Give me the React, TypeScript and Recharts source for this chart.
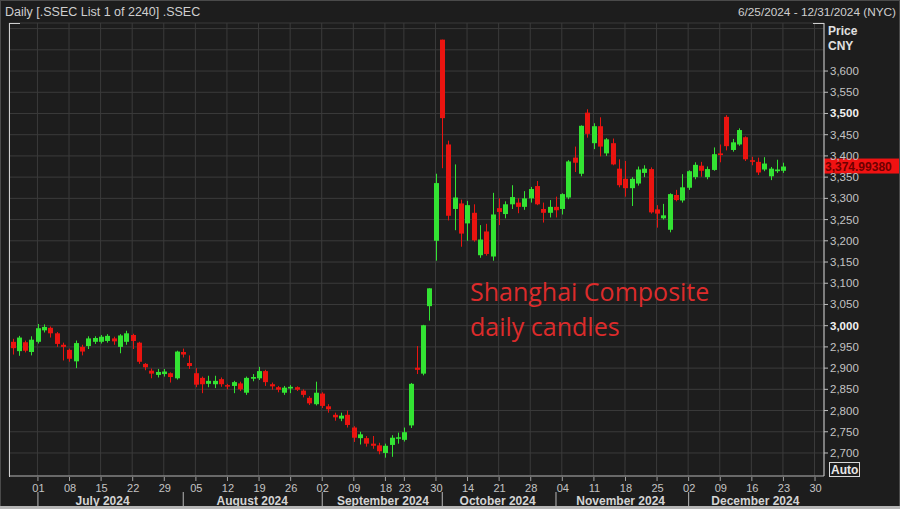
import React from "react";
import { ComposedChart, Bar, XAxis, YAxis, CartesianGrid, ReferenceLine } from "recharts";

// ---- Data ----
const tradingDays: [string, number[]][] = [
  ["06", [25, 26, 27, 28]],
  ["07", [1, 2, 3, 4, 5, 8, 9, 10, 11, 12, 15, 16, 17, 18, 19, 22, 23, 24, 25, 26, 29, 30, 31]],
  ["08", [1, 2, 5, 6, 7, 8, 9, 12, 13, 14, 15, 16, 19, 20, 21, 22, 23, 26, 27, 28, 29, 30]],
  ["09", [2, 3, 4, 5, 6, 9, 10, 11, 12, 13, 18, 19, 20, 23, 24, 25, 26, 27, 30]],
  ["10", [8, 9, 10, 11, 14, 15, 16, 17, 18, 21, 22, 23, 24, 25, 28, 29, 30, 31]],
  ["11", [1, 4, 5, 6, 7, 8, 11, 12, 13, 14, 15, 18, 19, 20, 21, 22, 25, 26, 27, 28, 29]],
  ["12", [2, 3, 4, 5, 6, 9, 10, 11, 12, 13, 16, 17, 18, 19, 20, 23, 24, 25, 26, 27, 30, 31]],
];

const opens = [
  2962, 2940, 2961, 2938,
  2962, 2989, 2995, 2982, 2955, 2943, 2916, 2950, 2952, 2962, 2962, 2964, 2970, 2950, 2962, 2978, 2960, 2910, 2894, 2884, 2886, 2888, 2876,
  2938, 2912, 2888, 2877, 2863, 2862, 2874, 2860, 2858, 2864, 2842, 2875, 2876, 2893, 2862, 2855, 2842, 2852, 2855, 2847, 2830, 2815,
  2840, 2810, 2790, 2781, 2790, 2760, 2735, 2735, 2722, 2718, 2700, 2719, 2735, 2731, 2765, 2901, 2887, 3046, 3200,
  3674, 3427, 3275, 3288, 3241, 3266, 3166, 3222, 3163, 3277, 3263, 3286, 3290, 3280, 3300, 3329, 3275, 3266,
  3280, 3275, 3302, 3396, 3358, 3502, 3430, 3470, 3406, 3430, 3370, 3346, 3324, 3335, 3360, 3369, 3274, 3253, 3226, 3308, 3295,
  3325, 3350, 3377, 3350, 3367, 3406, 3492, 3414, 3427, 3444, 3390, 3386, 3368, 3352, 3364, 3365,
];
const highs = [
  2969, 2976, 2965, 2975,
  3004, 3003, 2998, 2985, 2960, 2946, 2965, 2955, 2975, 2975, 2978, 2980, 2974, 2980, 2988, 2981, 2962, 2912, 2899, 2898, 2898, 2890, 2941,
  2946, 2930, 2900, 2880, 2882, 2882, 2878, 2863, 2870, 2868, 2880, 2886, 2903, 2896, 2866, 2858, 2858, 2860, 2857, 2850, 2834, 2868,
  2843, 2815, 2795, 2795, 2800, 2763, 2750, 2740, 2740, 2724, 2722, 2742, 2748, 2760, 2865, 2952, 3002, 3088, 3358,
  3674, 3436, 3380, 3297, 3294, 3286, 3237, 3240, 3313, 3300, 3293, 3331, 3300, 3317, 3327, 3341, 3290, 3296,
  3304, 3312, 3390, 3422, 3472, 3510, 3477, 3491, 3442, 3441, 3392, 3388, 3350, 3375, 3378, 3373, 3284, 3287, 3312, 3320, 3357,
  3366, 3385, 3386, 3375, 3420, 3427, 3496, 3440, 3465, 3446, 3398, 3396, 3397, 3374, 3391, 3384,
];
const lows = [
  2932, 2929, 2937, 2930,
  2958, 2984, 2972, 2950, 2918, 2915, 2900, 2930, 2945, 2957, 2958, 2960, 2955, 2935, 2955, 2945, 2910, 2895, 2876, 2878, 2880, 2866, 2873,
  2925, 2898, 2855, 2841, 2855, 2853, 2856, 2850, 2841, 2846, 2837, 2869, 2872, 2858, 2849, 2843, 2837, 2841, 2846, 2831, 2813, 2812,
  2806, 2795, 2776, 2775, 2760, 2726, 2720, 2715, 2710, 2697, 2689, 2691, 2722, 2727, 2759, 2886, 2883, 3012, 3153,
  3371, 3248, 3225, 3186, 3200, 3198, 3160, 3165, 3153, 3237, 3253, 3275, 3265, 3273, 3290, 3284, 3243, 3255,
  3255, 3262, 3298, 3362, 3352, 3443, 3416, 3399, 3400, 3378, 3326, 3304, 3282, 3330, 3350, 3264, 3231, 3250, 3220, 3293, 3290,
  3320, 3345, 3351, 3345, 3365, 3385, 3413, 3410, 3424, 3388, 3378, 3355, 3364, 3343, 3360, 3360,
];
const closes = [
  2947, 2972, 2941, 2967,
  2994, 2997, 2982, 2957, 2950, 2922, 2959, 2939, 2970, 2971, 2974, 2976, 2963, 2977, 2982, 2964, 2915, 2902, 2887, 2891, 2892, 2879, 2939,
  2932, 2905, 2861, 2862, 2870, 2870, 2862, 2858, 2867, 2850, 2877, 2879, 2893, 2867, 2857, 2849, 2854, 2856, 2849, 2837, 2817, 2842,
  2811, 2803, 2784, 2788, 2766, 2736, 2744, 2722, 2717, 2704, 2717, 2736, 2737, 2749, 2863, 2896, 3001, 3088, 3336,
  3489, 3259, 3302, 3217, 3284, 3201, 3203, 3169, 3262, 3268, 3286, 3303, 3280, 3300, 3322, 3286, 3266, 3280,
  3272, 3310, 3387, 3384, 3471, 3452, 3470, 3422, 3439, 3380, 3331, 3324, 3346, 3368, 3370, 3267, 3264, 3260, 3310, 3296, 3326,
  3364, 3379, 3365, 3369, 3404, 3402, 3423, 3432, 3461, 3392, 3386, 3361, 3382, 3370, 3368, 3375,
];

const yTicks = [2700, 2750, 2800, 2850, 2900, 2950, 3000, 3050, 3100, 3150, 3200, 3250, 3300, 3350, 3400, 3450, 3500, 3550, 3600, 3650, 3700];
const yLabelMax = 3600;
const boldTicks = [3000, 3500];
const dayTicks = ["07-01", "07-08", "07-15", "07-22", "07-29", "08-05", "08-12", "08-19", "08-26", "09-02", "09-09", "09-18", "09-23", "09-30", "10-14", "10-21", "10-28", "11-04", "11-11", "11-18", "11-25", "12-02", "12-09", "12-16", "12-23", "12-30"];
const monthStarts = ["07-01", "08-01", "09-02", "10-08", "11-01", "12-02"];
const monthLabelKeys = ["07-15", "08-16", "09-18", "10-21", "11-15", "12-16"];
const monthLabelTexts = ["July 2024", "August 2024", "September 2024", "October 2024", "November 2024", "December 2024"];
const monthLabelShift = [2, 0, -2, -1, 2, 4];
const lastPrice = 3374.9938;
const lastPriceText = "3,374.99380";

// ---- Build table ----
const dates = tradingDays.flatMap(([m, ds]) => ds.map((d) => `${m}-${String(d).padStart(2, "0")}`));
const data = dates.map((d, i) =>
  i < opens.length
    ? { d, o: opens[i], h: highs[i], l: lows[i], c: closes[i], range: [lows[i], highs[i]] }
    : { d, range: null }
);

const GREEN = "#33e333";
const RED = "#ea1410";
const FONT = "'Liberation Sans', Arial, sans-serif";
const GRID = "#3b3b3b";
const BG = "#1d1d1d";

const fmt = (v: number) => {
  const s = String(Math.round(v));
  return s.length > 3 ? s.slice(0, s.length - 3) + "," + s.slice(s.length - 3) : s;
};

const Candle = (props: any) => {
  const { x, width, payload } = props;
  let { y, height } = props;
  if (!payload || payload.o == null || y == null || height == null || isNaN(y)) return null;
  if (height < 0) {
    y = y + height;
    height = -height;
  }
  const { o, h, l, c } = payload;
  const k = h - l > 0 ? height / (h - l) : 0;
  const yO = y + (h - o) * k;
  const yC = y + (h - c) * k;
  const col = c >= o ? GREEN : RED;
  const cx = Math.round(x + width / 2);
  const top = Math.min(yO, yC);
  const bh = Math.max(1.5, Math.abs(yO - yC));
  return (
    <g>
      <line x1={cx + 0.5} x2={cx + 0.5} y1={y} y2={y + height} stroke={col} strokeWidth={1} />
      <rect x={cx - 2} y={top} width={5} height={bh} fill={col} />
    </g>
  );
};

const YTick = (props: any) => {
  const { x, y, payload } = props;
  const v = payload.value;
  if (v > yLabelMax) return null;
  const bold = boldTicks.includes(v);
  return (
    <g>
      <line x1={x} x2={x + 4} y1={y} y2={y} stroke="#bdbdbd" />
      <text x={x + 6} y={y + 4} fill={bold ? "#f2f2f2" : "#c4c4c4"} fontWeight={bold ? 700 : 400} fontSize={11.5} fontFamily={FONT}>
        {fmt(v)}
      </text>
    </g>
  );
};

const DayTick = (props: any) => {
  const { x, y, payload } = props;
  return (
    <g>
      <line x1={x + 0.5} x2={x + 0.5} y1={y + 1} y2={y + 5} stroke="#a0a0a0" />
      <text x={x + 1} y={y + 16} textAnchor="middle" fill="#c4c4c4" fontSize={11} fontFamily={FONT}>
        {String(payload.value).slice(3)}
      </text>
    </g>
  );
};

const MonthTick = (props: any) => {
  const { x, y, payload } = props;
  const v = String(payload.value);
  const li = monthLabelKeys.indexOf(v);
  if (monthStarts.includes(v)) {
    return <line x1={x + 0.5} x2={x + 0.5} y1={y - 3} y2={y + 12} stroke="#b8b8b8" />;
  }
  if (li >= 0) {
    return (
      <text x={x + monthLabelShift[li]} y={y + 10} textAnchor="middle" fill="#d4d4d4" fontWeight={700} fontSize={12} fontFamily={FONT}>
        {monthLabelTexts[li]}
      </text>
    );
  }
  return null;
};

const PriceTag = (props: any) => {
  const vb = props.viewBox || {};
  const xr = (vb.x || 0) + (vb.width || 0);
  const yy = vb.y || 0;
  return (
    <g>
      <rect x={xr} y={yy - 8} width={80} height={15} fill="#f01212" />
      <text x={xr + 1} y={yy + 4} fill="#6e0000" fontWeight={700} fontSize={12} fontFamily={FONT}>
        {lastPriceText}
      </text>
    </g>
  );
};

export default function App() {
  return (
    <div style={{ position: "absolute", left: 0, top: 0, width: 900, height: 509, background: BG, overflow: "hidden" }}>
      <ComposedChart width={900} height={509} data={data} margin={{ top: 23, right: 0, bottom: 0, left: 9 }}>
        <CartesianGrid stroke={GRID} strokeWidth={1} />
        <XAxis
          dataKey="d"
          type="category"
          ticks={dayTicks}
          interval={0}
          height={19}
          tickSize={0}
          tickMargin={0}
          tickLine={false}
          axisLine={{ stroke: "#a8a8a8" }}
          tick={<DayTick />}
        />
        <XAxis
          xAxisId="m"
          dataKey="d"
          type="category"
          ticks={[...monthStarts, ...monthLabelKeys]}
          interval={0}
          height={14}
          tickSize={0}
          tickMargin={0}
          tickLine={false}
          axisLine={false}
          tick={<MonthTick />}
        />
        <YAxis
          orientation="right"
          width={76}
          domain={[2645.8, 3713.2]}
          allowDataOverflow
          ticks={yTicks}
          interval={0}
          tickSize={0}
          tickMargin={0}
          tickLine={false}
          axisLine={{ stroke: "#d0d0d0" }}
          tick={<YTick />}
        />
        <Bar dataKey="range" barSize={5} shape={<Candle />} isAnimationActive={false} />
        <ReferenceLine y={lastPrice} stroke="none" label={(p: any) => <PriceTag {...p} />} />
      </ComposedChart>
      <svg width={900} height={509} style={{ position: "absolute", left: 0, top: 0, pointerEvents: "none" }}>
        <rect x={0.5} y={0.5} width={899} height={508} fill="none" stroke="#4a4a4a" />
        <text x={5} y={16} fill="#cfcfcf" fontSize={12.5} fontFamily={FONT}>Daily [.SSEC List 1 of 2240] .SSEC</text>
        <text x={896} y={16} textAnchor="end" fill="#cfcfcf" fontSize={11.8} fontFamily={FONT}>6/25/2024 - 12/31/2024 (NYC)</text>
        <line x1={9.5} x2={9.5} y1={23} y2={477} stroke="#cfcfcf" />
        <line x1={9} x2={20} y1={23.5} y2={23.5} stroke="#cfcfcf" />
        <line x1={813} x2={824} y1={23.5} y2={23.5} stroke="#cfcfcf" />
        <text x={828} y={35} fill="#e0e0e0" fontWeight={700} fontSize={12} fontFamily={FONT}>Price</text>
        <text x={828} y={50} fill="#e0e0e0" fontWeight={700} fontSize={12} fontFamily={FONT}>CNY</text>
        <rect x={829.5} y={462.5} width={30} height={14} fill="none" stroke="#d8d8d8" />
        <text x={831} y={474} fill="#e8e8e8" fontWeight={700} fontSize={12} fontFamily={FONT}>Auto</text>
        <text x={470} y={301} fill="#dc2b2b" fontSize={25} fontFamily="'Open Sans', sans-serif">Shanghai Composite</text>
        <text x={470} y={336} fill="#dc2b2b" fontSize={25} fontFamily="'Open Sans', sans-serif">daily candles</text>
        <rect x={0} y={506} width={900} height={3} fill="#b5b5b5" />
      </svg>
    </div>
  );
}
